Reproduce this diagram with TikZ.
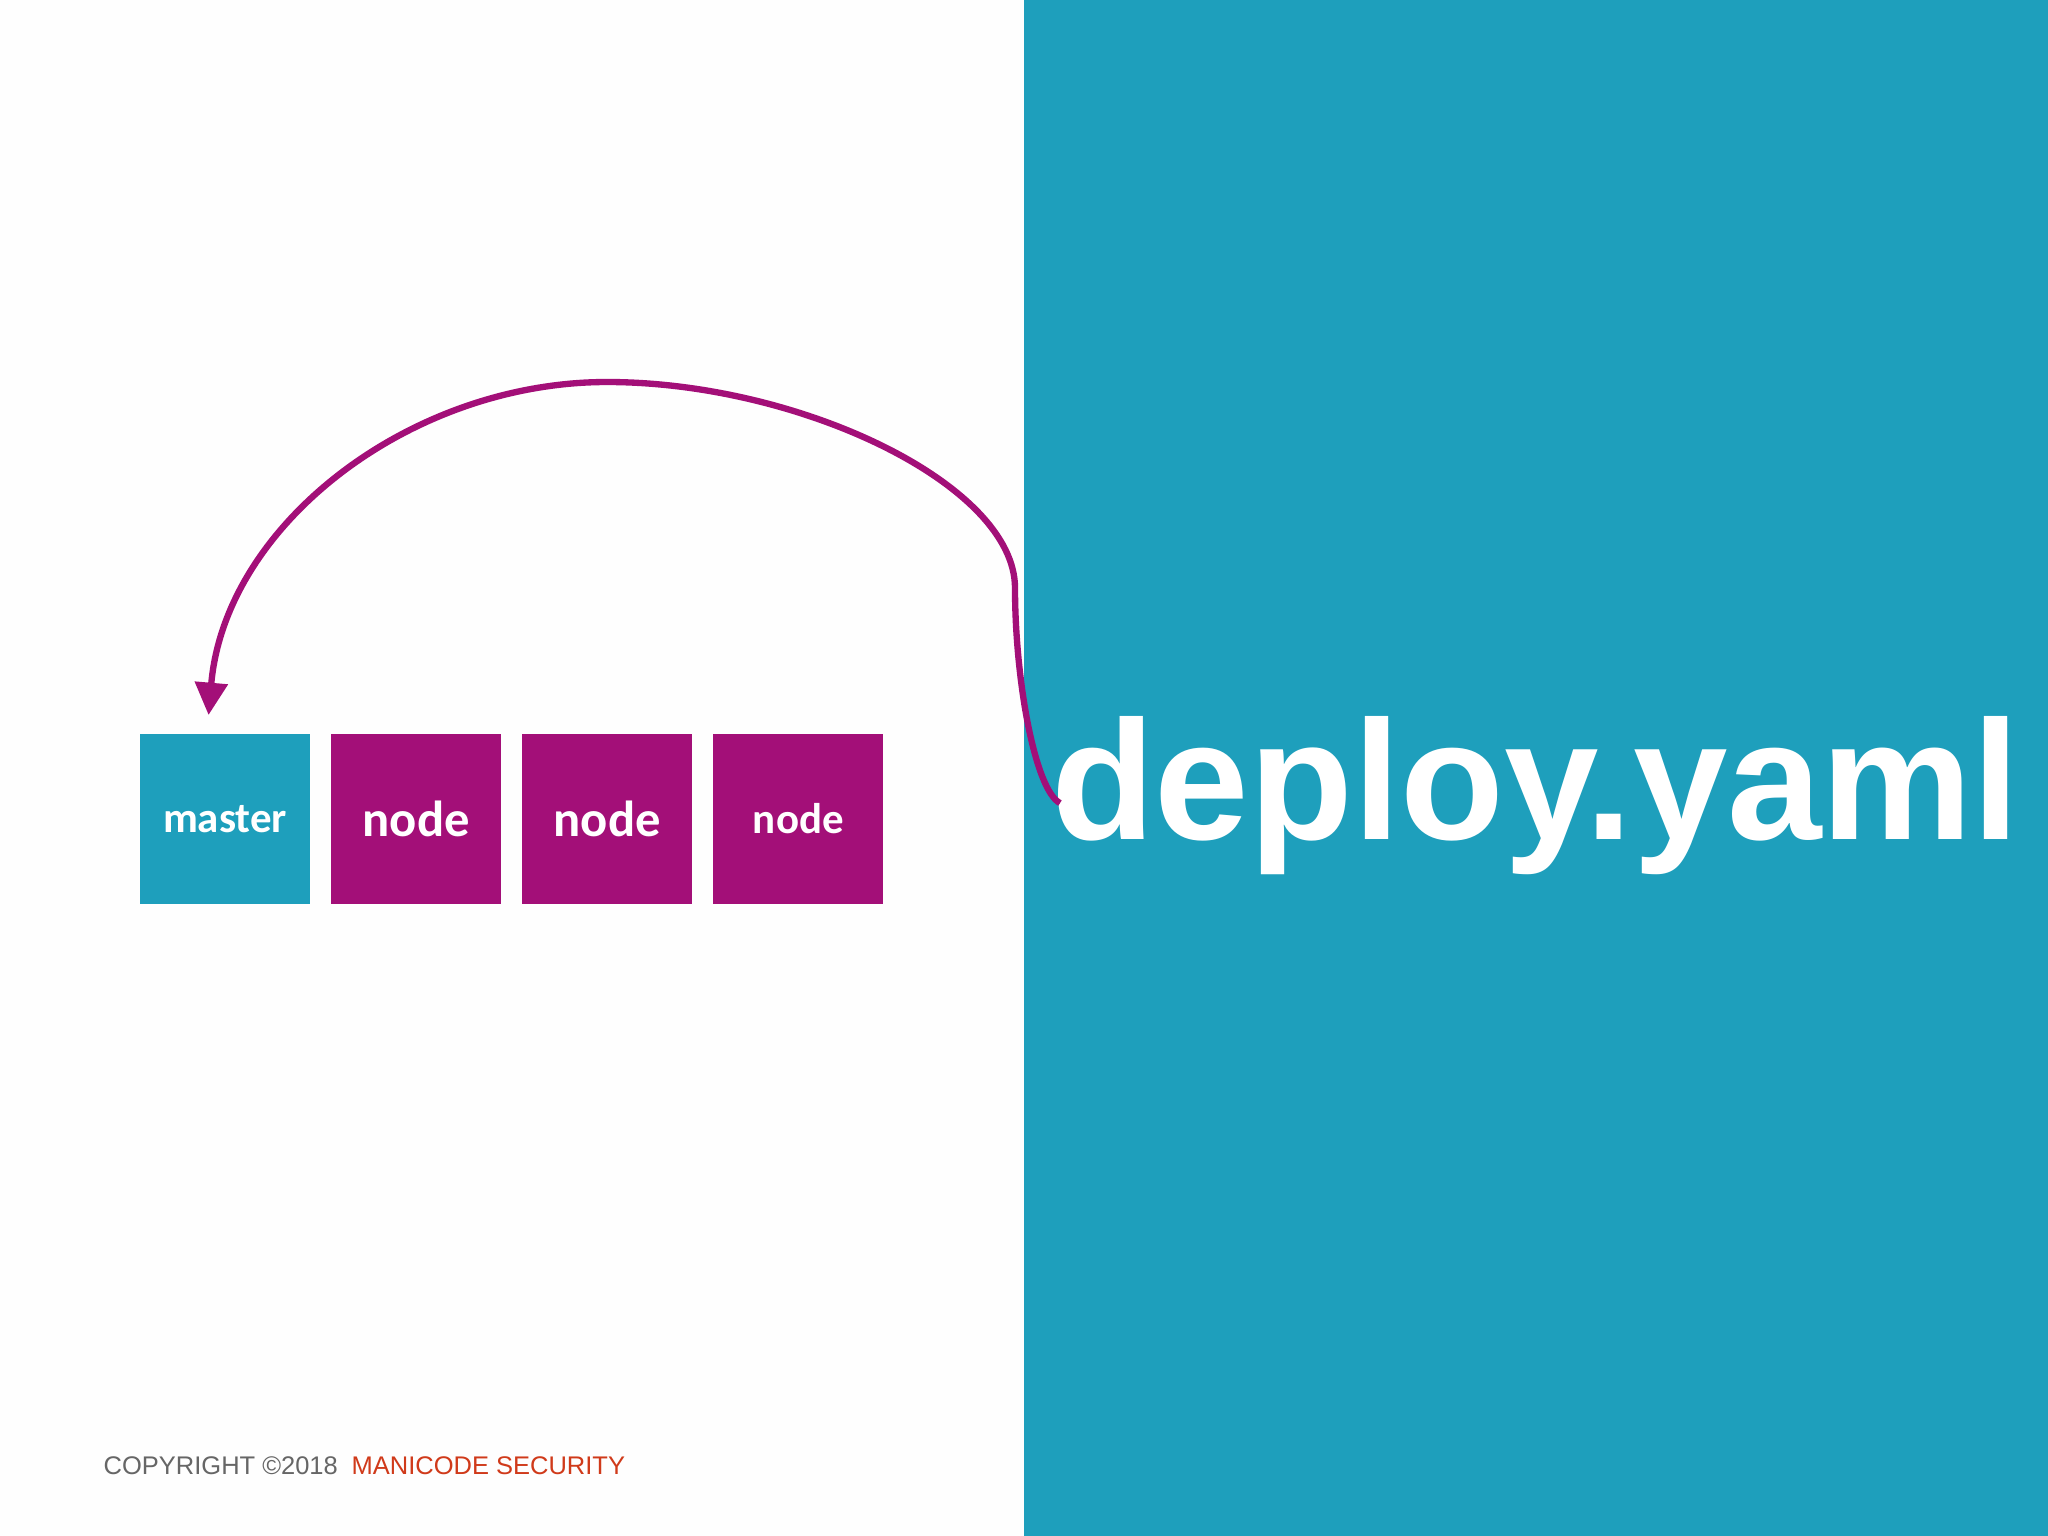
\documentclass[tikz,border=0pt]{standalone}
\usepackage{fontspec}
\setmainfont{Liberation Sans}
\newfontfamily\boxfont{Carlito}
\usetikzlibrary{positioning,arrows.meta}

\definecolor{panelblue}{HTML}{1E9FBC}
\definecolor{nodepurple}{HTML}{A30F78}
\definecolor{footgray}{HTML}{666666}
\definecolor{footred}{HTML}{D03A1A}

\begin{document}
\begin{tikzpicture}[x=0.01cm, y=-0.01cm, node distance=0.21cm,
  square/.style={minimum size=1.7cm, inner sep=0pt, outer sep=0pt, text=white, font=\boxfont\bfseries\fontsize{14.4}{16}\selectfont},
  master box/.style={square, fill=panelblue, font=\boxfont\bfseries\fontsize{12.2}{14}\selectfont},
  worker box/.style={square, fill=nodepurple},
  flow/.style={draw=nodepurple, line width=1.8pt, shorten >=5.4pt,
    -{Triangle[length=9.2pt,width=9.1pt]}}]

  \useasboundingbox (0,0) rectangle (2048,1536);
  \fill[white!99.5!black] (0,0) rectangle (1024,1536);

  % Right half with the file name
  \fill[panelblue] (1024,0) rectangle (2048,1536);
  \node [anchor=base west, inner sep=0pt, outer sep=0pt, text=white, font=\bfseries\fontsize{48.3}{50}\selectfont] (yaml) at (1051,839) {deploy.yaml};

  % Row of cluster boxes
  \node [master box] (master) at (225,819) {master};
  \node [worker box, right=of master] (node1) {node};
  \node [worker box, right=of node1] (node2) {node};
  \node [worker box, right=of node2, font=\boxfont\bfseries\fontsize{12.2}{14}\selectfont] (node3) {node};

  % Footer
  \node [anchor=base west, inner sep=0pt, text=footgray, font=\fontsize{7.25}{9}\selectfont] (copy) at (103,1474) {COPYRIGHT ©2018};
  \node [anchor=base west, inner sep=0pt, text=footred, font=\fontsize{7.25}{9}\selectfont] (brand) at (351,1474) {MANICODE SECURITY};

  \path[flow] ([shift={(9,8)}]yaml.west) .. controls (1035,790) and (1015,680) .. (1015,588)
    .. controls (1015,485) and (800,382) .. (607,382)
    .. controls (410,382) and (225,525) .. (master.102);
\end{tikzpicture}
\end{document}
